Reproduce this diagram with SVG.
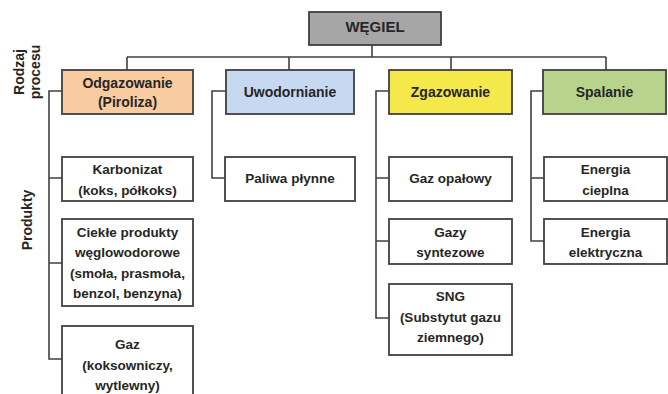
<svg xmlns="http://www.w3.org/2000/svg" width="668" height="394" viewBox="0 0 668 394">
<style>
text{font-family:"Liberation Sans",Arial,sans-serif;font-weight:bold;fill:#262626;text-anchor:middle}
.c{font-size:14px}
.t{font-size:15px}
.p{font-size:13.5px}
.box{stroke:#404040;stroke-width:1.8}
.w{fill:#ffffff}
.ln{fill:none;stroke:#404040;stroke-width:1.6}
</style>
<rect width="668" height="394" fill="#ffffff"/>
<g id="connectors" class="ln">
<path d="M372,45V57M127,57H606M127,57V70M289,57V70M451,57V70M606,57V70"/>
<path d="M62,91H49V359H62M49,178H62M49,263H62"/>
<path d="M226,91H212V178H225"/>
<path d="M389,91H376V318H389M376,178H389M376,241H389"/>
<path d="M543,91H531V241H544M531,178H544"/>
</g>
<g id="labels">
<text class="c" transform="translate(23.5,72) rotate(-90)">Rodzaj</text>
<text class="c" transform="translate(39.5,72) rotate(-90)">procesu</text>
<text class="c" transform="translate(32,220) rotate(-90)">Produkty</text>
</g>
<g id="wegiel"><rect class="box" x="309" y="12" width="132" height="33" fill="#a6a6a6"/><text class="t" x="375" y="31.5">WĘGIEL</text></g>
<g id="odgazowanie"><rect class="box" x="62" y="70" width="131" height="44" fill="#f9cba0"/><text class="c" x="127.5" y="88">Odgazowanie</text><text class="c" x="127.5" y="107">(Piroliza)</text></g>
<g id="uwodornianie"><rect class="box" x="226" y="70" width="128" height="44" fill="#c6d9f1"/><text class="c" x="290" y="97">Uwodornianie</text></g>
<g id="zgazowanie"><rect class="box" x="389" y="70" width="123" height="44" fill="#f5e84b"/><text class="c" x="450.5" y="97">Zgazowanie</text></g>
<g id="spalanie"><rect class="box" x="543" y="70" width="123" height="44" fill="#b8d48c"/><text class="c" x="604.5" y="97">Spalanie</text></g>
<g id="karbonizat"><rect class="box w" x="62" y="157" width="131" height="44"/><text class="p" x="127.5" y="173.5">Karbonizat</text><text class="p" x="127.5" y="194.5">(koks, półkoks)</text></g>
<g id="ciekle"><rect class="box w" x="62" y="219" width="131" height="87"/><text class="p" x="127.5" y="236.5">Ciekłe produkty</text><text class="p" x="127.5" y="257">węglowodorowe</text><text class="p" x="127.5" y="277.5">(smoła, prasmoła,</text><text class="p" x="127.5" y="298">benzol, benzyna)</text></g>
<g id="gaz"><rect class="box w" x="62" y="326" width="131" height="80"/><text class="p" x="127.5" y="349">Gaz</text><text class="p" x="127.5" y="369.5">(koksowniczy,</text><text class="p" x="127.5" y="390">wytlewny)</text></g>
<g id="paliwa"><rect class="box w" x="225" y="157" width="130" height="44"/><text class="p" x="290" y="183">Paliwa płynne</text></g>
<g id="gazopalowy"><rect class="box w" x="389" y="157" width="123" height="44"/><text class="p" x="450.5" y="183">Gaz opałowy</text></g>
<g id="gazysyntezowe"><rect class="box w" x="389" y="219" width="123" height="45"/><text class="p" x="450.5" y="236.5">Gazy</text><text class="p" x="450.5" y="257">syntezowe</text></g>
<g id="sng"><rect class="box w" x="389" y="284" width="123" height="71"/><text class="p" x="450.5" y="301">SNG</text><text class="p" x="450.5" y="321.5">(Substytut gazu</text><text class="p" x="450.5" y="342">ziemnego)</text></g>
<g id="cieplna"><rect class="box w" x="544" y="157" width="123" height="44"/><text class="p" x="605.5" y="173.5">Energia</text><text class="p" x="605.5" y="194.5">cieplna</text></g>
<g id="elektryczna"><rect class="box w" x="544" y="219" width="123" height="45"/><text class="p" x="605.5" y="236.5">Energia</text><text class="p" x="605.5" y="257">elektryczna</text></g>
</svg>
